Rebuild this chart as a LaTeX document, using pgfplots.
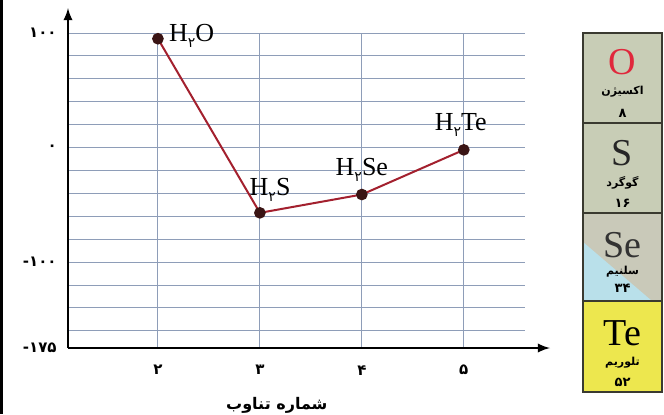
\documentclass[border=0pt]{standalone}
\usepackage{pgfplots}
\pgfplotsset{compat=1.18}
\usepackage{fontspec}
\setmainfont{Liberation Serif}
\newfontfamily\arabicfont[Script=Arabic]{DejaVu Sans}
\newfontfamily\latinsans{DejaVu Sans}
\TeXXeTstate=1
\definecolor{gridc}{HTML}{8E9DB8}
\definecolor{linec}{HTML}{A3202E}
\definecolor{dotc}{HTML}{3A1414}
\definecolor{boxgray}{HTML}{C8CDB6}
\definecolor{boxse}{HTML}{C9C9B9}
\definecolor{boxblue}{HTML}{B9E0EA}
\definecolor{boxyellow}{HTML}{EDE74E}
\definecolor{boxline}{HTML}{3A3A30}
\definecolor{oxred}{HTML}{E0283C}
\newcommand{\sub}{\raisebox{-0.55ex}{\arabicfont\fontsize{7}{7}\selectfont ۲}}
\newcommand{\mn}{{\latinsans\bfseries -}}

\begin{document}
\begin{tikzpicture}
\useasboundingbox (0,0) rectangle (332pt,207pt);
\fill[white] (0,0) rectangle (332pt,207pt);
\fill[black] (0,0) rectangle (1.5pt,207pt);

\begin{axis}[
  at={(34pt,33pt)}, anchor=south west,
  scale only axis, width=228.5pt, height=157.5pt,
  xmin=1.118, xmax=5.6, ymin=-175, ymax=100,
  axis lines=left,
  axis line style={-latex, line width=1.1pt, black, shorten >=-12.5pt},
  xtick={2,3,4,5}, xticklabels={۲,۳,۴,۵},
  ytick={-175,-100,0,100}, yticklabels={\mn۱۷۵,\mn۱۰۰,۰,۱۰۰},
  minor ytick={-160,-140,...,100},
  xmajorgrids, yminorgrids,
  major grid style={gridc, line width=0.5pt},
  minor grid style={gridc, line width=0.5pt},
  tick style={draw=none},
  ticklabel style={font=\arabicfont\bfseries\fontsize{7.5}{8}\selectfont},
  x tick label style={yshift=-3pt},
  xlabel={\arabicfont\bfseries\beginR شماره تناوب\endR},
  xlabel style={at={(axis description cs:0.457,-0.181)}, anchor=center,
    font=\fontsize{8}{9}\selectfont},
  clip=false,
]
\addplot[linec, line width=1pt, mark=*, mark size=2.4pt,
  mark options={fill=dotc, draw=dotc}]
  coordinates {(2,95) (3,-57) (4,-41) (5,-2)};

\node[anchor=west, font=\fontsize{13}{13}\selectfont] at (axis cs:2.04,97.5) {H\sub O};
\node[font=\fontsize{13}{13}\selectfont] at (axis cs:3.1,-37) {H\sub S};
\node[font=\fontsize{13}{13}\selectfont] at (axis cs:4.0,-19.6) {H\sub Se};
\node[font=\fontsize{13}{13}\selectfont] at (axis cs:4.97,19.7) {H\sub Te};
\end{axis}

% periodic table strip
\fill[boxgray] (291.5pt,145.5pt) rectangle (331pt,190.5pt);
\fill[boxgray] (291.5pt,100.5pt) rectangle (331pt,145.5pt);
\fill[boxse] (291.5pt,56.5pt) rectangle (331pt,100.5pt);
\fill[boxblue] (291.5pt,56.5pt) -- (291.5pt,86pt) -- (326pt,56.5pt) -- cycle;
\fill[boxyellow] (291.5pt,11pt) rectangle (331pt,56.5pt);
\draw[boxline, line width=1pt] (291.5pt,11pt) rectangle (331pt,190.5pt);
\foreach \yy in {145.5,100.5,56.5} \draw[boxline, line width=1pt] (291.5pt,\yy pt) -- (331pt,\yy pt);

\node[text=oxred, font=\fontsize{19}{19}\selectfont] at (311.25pt,176pt) {O};
\node[font=\arabicfont\bfseries\fontsize{5.5}{6}\selectfont] at (311.25pt,161pt) {\beginR اکسیژن\endR};
\node[font=\arabicfont\bfseries\fontsize{6.5}{7}\selectfont] at (311.25pt,150.5pt) {۸};

\node[text=black!85, font=\fontsize{19}{19}\selectfont] at (311.25pt,130.5pt) {S};
\node[font=\arabicfont\bfseries\fontsize{5.5}{6}\selectfont] at (311.25pt,115.5pt) {\beginR گوگرد\endR};
\node[font=\arabicfont\bfseries\fontsize{6.5}{7}\selectfont] at (311.25pt,105.5pt) {۱۶};

\node[text=black!80, font=\fontsize{19}{19}\selectfont] at (311.25pt,84.5pt) {Se};
\node[font=\arabicfont\bfseries\fontsize{5.5}{6}\selectfont] at (311.25pt,71pt) {\beginR سلنیم\endR};
\node[font=\arabicfont\bfseries\fontsize{6.5}{7}\selectfont] at (311.25pt,63pt) {۳۴};

\node[text=black, font=\fontsize{19}{19}\selectfont] at (311.25pt,40.5pt) {Te};
\node[font=\arabicfont\bfseries\fontsize{5.5}{6}\selectfont] at (311.25pt,25.5pt) {\beginR تلوریم\endR};
\node[font=\arabicfont\bfseries\fontsize{6.5}{7}\selectfont] at (311.25pt,16pt) {۵۲};
\end{tikzpicture}
\end{document}
